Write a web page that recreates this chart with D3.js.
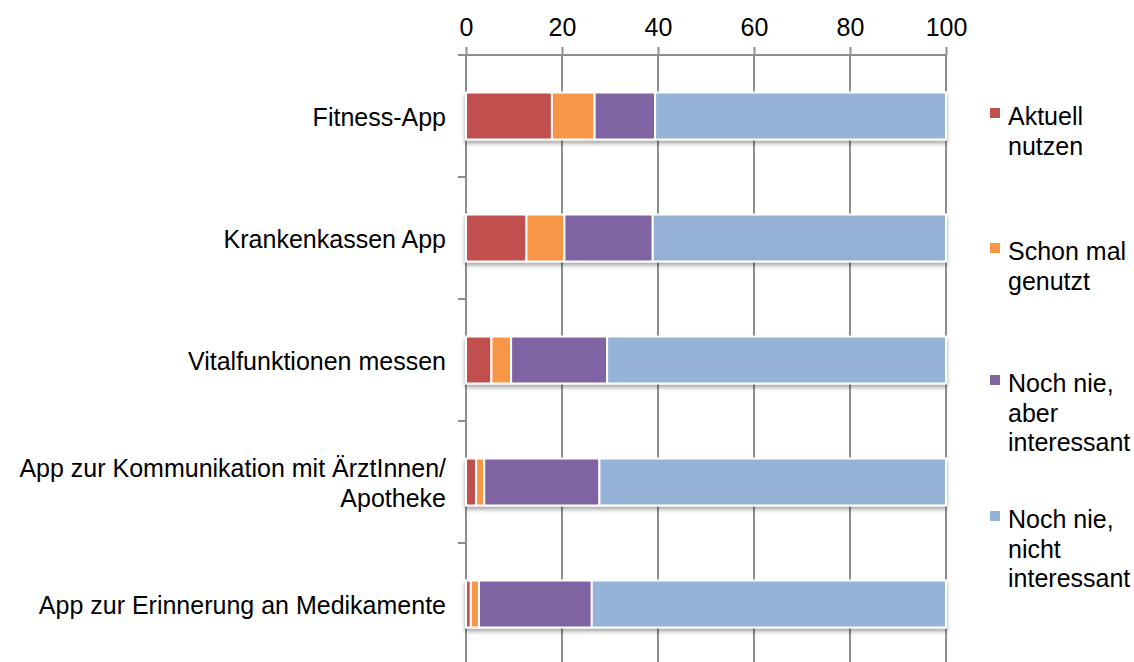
<!DOCTYPE html>
<html>
<head>
<meta charset="utf-8">
<script src="https://cdn.jsdelivr.net/npm/d3@7"></script>
<style>
  html, body { margin: 0; padding: 0; background: #fff; }
  svg { display: block; }
  text { font-family: "Liberation Sans", Arial, Helvetica, sans-serif; fill: #000; }
</style>
</head>
<body>
<svg id="chart" width="1134" height="662"></svg>
<script>
// categories, top to bottom (label lines)
var categories = [
    ['Fitness-App'],
    ['Krankenkassen App'],
    ['Vitalfunktionen messen'],
    ['App zur Kommunikation mit ÄrztInnen/', 'Apotheke'],
    ['App zur Erinnerung an Medikamente']
];

// series values in percent, same order as categories
var aktuell      = [17.9, 12.6, 5.3, 2.1, 1.0];
var schonMal     = [8.9, 7.9, 4.1, 1.7, 1.7];
var nieInteresse = [12.6, 18.4, 20.0, 24.0, 23.5];
var nieNicht     = [60.6, 61.1, 70.6, 72.2, 73.8];

var seriesNames = [
    ['Aktuell', 'nutzen'],
    ['Schon mal', 'genutzt'],
    ['Noch nie,', 'aber', 'interessant'],
    ['Noch nie,', 'nicht', 'interessant']
];
var seriesColors = ['#C0504D', '#F79646', '#8064A2', '#95B3D7'];

var tickValues = [0, 20, 40, 60, 80, 100];

(function () {
    var svg = d3.select('#chart'),
        plotLeft = 466, plotRight = 946, plotTop = 55, plotBottom = 665,
        gridColor = '#8e8e8e',
        fontSize = '25px';

    var keys = ['a', 'b', 'c', 'd'];
    var rows = categories.map(function (c, i) {
        return { name: c.join(' '), lines: c, a: aktuell[i], b: schonMal[i], c: nieInteresse[i], d: nieNicht[i] };
    });

    var x = d3.scaleLinear().domain([0, 100]).range([plotLeft, plotRight]);
    var y = d3.scaleBand()
        .domain(rows.map(function (r) { return r.name; }))
        .range([plotTop, plotBottom])
        .paddingInner(0.615)
        .paddingOuter(0.3075);

    // soft shadow under the bars
    var defs = svg.append('defs');
    var f = defs.append('filter').attr('id', 'shadow')
        .attr('x', '-5%').attr('y', '-20%').attr('width', '110%').attr('height', '160%');
    f.append('feDropShadow').attr('dx', 0).attr('dy', 3).attr('stdDeviation', 2)
        .attr('flood-color', '#000').attr('flood-opacity', 0.35);

    // gridlines
    svg.append('g').selectAll('line')
        .data(tickValues.slice(1))
        .enter().append('line')
        .attr('x1', function (d) { return x(d); })
        .attr('x2', function (d) { return x(d); })
        .attr('y1', plotTop)
        .attr('y2', plotBottom)
        .attr('stroke', gridColor)
        .attr('stroke-width', 2);

    // top axis
    var xAxis = d3.axisTop(x).tickValues(tickValues).tickSize(8).tickPadding(11);
    var gx = svg.append('g').attr('transform', 'translate(0,' + plotTop + ')').call(xAxis);
    gx.select('.domain').attr('stroke', gridColor).attr('stroke-width', 2)
        .attr('d', 'M' + (plotLeft - 7) + ',0H' + plotRight);
    gx.selectAll('.tick line').attr('stroke', gridColor).attr('stroke-width', 2);
    gx.selectAll('.tick text')
        .style('font-family', '"Liberation Sans", Arial, sans-serif')
        .style('font-size', fontSize)
        .attr('fill', '#000');

    // left axis line with ticks between categories
    var boundaries = d3.range(rows.length + 1).map(function (i) { return plotTop + i * y.step(); });
    svg.append('line')
        .attr('x1', plotLeft).attr('x2', plotLeft).attr('y1', plotTop).attr('y2', plotBottom)
        .attr('stroke', gridColor).attr('stroke-width', 2);
    svg.append('g').selectAll('line')
        .data(boundaries)
        .enter().append('line')
        .attr('x1', plotLeft - 8).attr('x2', plotLeft)
        .attr('y1', function (d) { return d; })
        .attr('y2', function (d) { return d; })
        .attr('stroke', gridColor).attr('stroke-width', 2);

    // stacked bars
    var stack = d3.stack().keys(keys)(rows);
    svg.append('g').attr('filter', 'url(#shadow)')
        .selectAll('g')
        .data(stack)
        .enter().append('g')
        .attr('fill', function (d, i) { return seriesColors[i]; })
        .selectAll('rect')
        .data(function (d) { return d; })
        .enter().append('rect')
        .attr('x', function (d) { return x(d[0]); })
        .attr('width', function (d) { return x(d[1]) - x(d[0]); })
        .attr('y', function (d) { return y(d.data.name); })
        .attr('height', y.bandwidth())
        .attr('stroke', '#fff')
        .attr('stroke-width', 2);

    // category labels
    var labels = svg.append('g').selectAll('text')
        .data(rows)
        .enter().append('text')
        .attr('text-anchor', 'end')
        .style('font-size', fontSize)
        .attr('transform', function (d) {
            var cy = y(d.name) + y.bandwidth() / 2 + 1.5;
            return 'translate(446,' + (cy - (d.lines.length - 1) * 15) + ')';
        });
    labels.selectAll('tspan')
        .data(function (d) { return d.lines; })
        .enter().append('tspan')
        .attr('x', 0)
        .attr('y', function (d, i) { return i * 30; })
        .attr('dy', '0.35em')
        .text(function (d) { return d; });

    // legend
    var legendY = [125, 260, 392, 528];
    var legend = svg.append('g').selectAll('g')
        .data(seriesNames)
        .enter().append('g')
        .attr('transform', function (d, i) { return 'translate(990,' + legendY[i] + ')'; });
    legend.append('rect')
        .attr('x', 0).attr('y', -17).attr('width', 10).attr('height', 10)
        .attr('fill', function (d, i) { return seriesColors[i]; });
    legend.append('text')
        .style('font-size', fontSize)
        .selectAll('tspan')
        .data(function (d) { return d; })
        .enter().append('tspan')
        .attr('x', 18)
        .attr('y', function (d, i) { return i * 29.5; })
        .text(function (d) { return d; });
})();
</script>
</body>
</html>
